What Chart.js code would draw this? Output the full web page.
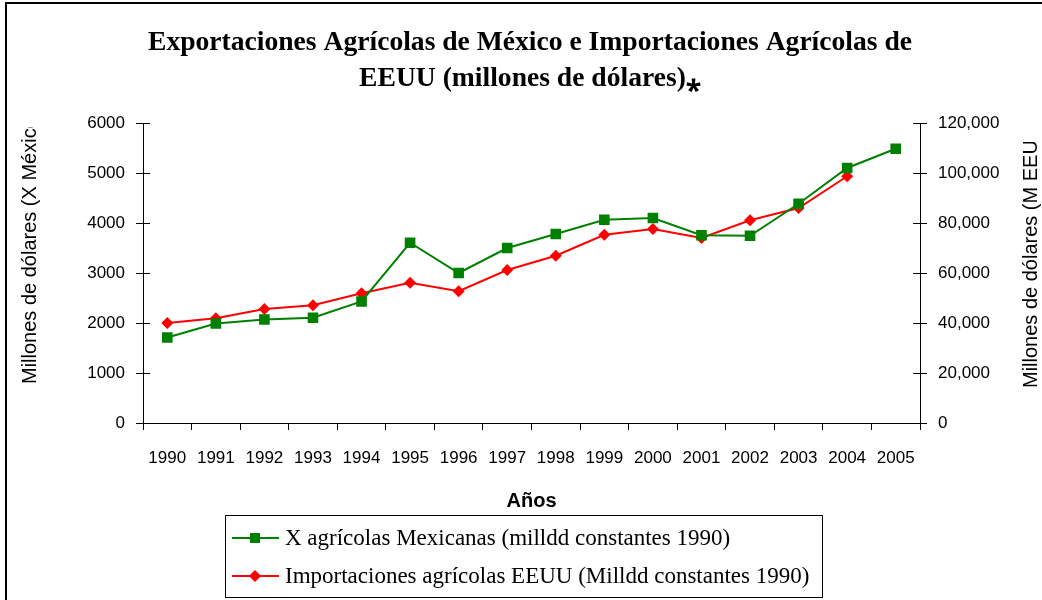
<!DOCTYPE html>
<html>
<head>
<meta charset="utf-8">
<script src="https://cdn.jsdelivr.net/npm/chart.js@4.4.1/dist/chart.umd.min.js"></script>
<style>
  html, body { margin: 0; padding: 0; background: #fff; overflow: hidden; }
  #wrap { position: relative; width: 1042px; height: 600px; }
  #frame { position: absolute; left: 5px; top: 2px; width: 2000px; height: 2000px;
           border-left: 2px solid #000; border-top: 2px solid #000; pointer-events: none; }
</style>
</head>
<body>
<div id="wrap">
  <canvas id="chart"></canvas>
  <div id="frame"></div>
</div>
<script>
var years = ["1990", "1991", "1992", "1993", "1994", "1995", "1996", "1997",
             "1998", "1999", "2000", "2001", "2002", "2003", "2004", "2005"];

// X agricolas Mexicanas, eje izquierdo
var exportsMx = [1710, 1990, 2070, 2105, 2430, 3605, 3000, 3500,
                 3780, 4065, 4100, 3755, 3745, 4385, 5100, 5485];

// Importaciones agricolas EEUU, eje derecho
var importsUs = [40000, 41900, 45600, 47100, 51900, 56100, 52700, 61200,
                 66900, 75300, 77600, 74000, 81100, 86000, 98700, null];

var seriesLabels = ["X agrícolas Mexicanas (milldd constantes 1990)",
                    "Importaciones agrícolas EEUU (Milldd constantes 1990)"];

var titleLines = ["Exportaciones Agrícolas de México e Importaciones Agrícolas de",
                  "EEUU (millones de dólares)\u204E"];

var leftTitle = "Millones de dólares (X México)";
var rightTitle = "Millones de dólares (M EEUU)";
var xTitle = "Años";

var sans = "'Liberation Sans', Arial, sans-serif";
var narrow = "'Liberation Sans Narrow', 'Arial Narrow', 'Liberation Sans', sans-serif";
var serif = "'Liberation Serif', 'Times New Roman', serif";

// small tick marks on the inner side of both value axes, plus the clipped axis titles
var extras = {
    id: 'extras',
    afterDraw: function(chart) {
        var ctx = chart.ctx;
        var y = chart.scales.y, y1 = chart.scales.y1;
        ctx.save();
        ctx.strokeStyle = '#000';
        ctx.lineWidth = 1;
        ctx.beginPath();
        y.ticks.forEach(function(t) {
            var py = Math.round(y.getPixelForValue(t.value)) + 0.5;
            ctx.moveTo(y.right, py);
            ctx.lineTo(y.right + 7, py);
        });
        y1.ticks.forEach(function(t) {
            var py = Math.round(y1.getPixelForValue(t.value)) + 0.5;
            ctx.moveTo(y1.left - 7, py);
            ctx.lineTo(y1.left, py);
        });
        ctx.stroke();
        ctx.restore();

        drawSideTitle(ctx, leftTitle, 30, 384, 127);
        drawSideTitle(ctx, rightTitle, 1031, 388, 142);
        drawLegend(chart);
    }
};

function drawSideTitle(ctx, text, cx, bottom, clipTop) {
    ctx.save();
    ctx.beginPath();
    ctx.rect(cx - 20, clipTop, 40, bottom - clipTop + 20);
    ctx.clip();
    ctx.translate(cx, bottom);
    ctx.rotate(-Math.PI / 2);
    ctx.font = '20px ' + sans;
    ctx.fillStyle = '#000';
    ctx.textAlign = 'left';
    ctx.textBaseline = 'middle';
    ctx.fillText(text, 0, 0);
    ctx.restore();
}

function drawLegend(chart) {
    var ctx = chart.ctx;
    var box = { left: 225.5, top: 515.5, right: 822.5, bottom: 597.5 };
    ctx.save();
    ctx.strokeStyle = '#000';
    ctx.lineWidth = 1;
    ctx.strokeRect(box.left, box.top, box.right - box.left, box.bottom - box.top);
    ctx.font = '23px ' + serif;
    ctx.textBaseline = 'middle';
    ctx.fillStyle = '#000';
    chart.data.datasets.forEach(function(ds, i) {
        var cy = 538 + i * 38;
        ctx.strokeStyle = ds.borderColor;
        ctx.lineWidth = 2;
        ctx.beginPath();
        ctx.moveTo(232, cy);
        ctx.lineTo(279, cy);
        ctx.stroke();
        ctx.fillStyle = ds.pointBackgroundColor;
        ctx.beginPath();
        if (ds.pointStyle === 'rect') {
            ctx.rect(250, cy - 5, 10, 10);
        } else {
            ctx.moveTo(255, cy - 6);
            ctx.lineTo(261, cy);
            ctx.lineTo(255, cy + 6);
            ctx.lineTo(249, cy);
            ctx.closePath();
        }
        ctx.fill();
        ctx.fillStyle = '#000';
        ctx.fillText(ds.label, 285, cy + 1);
    });
    ctx.restore();
}

var ctx = document.getElementById('chart');
var chart = new Chart(ctx, {
    type: 'line',
    data: {
        labels: years,
        datasets: [{
            label: seriesLabels[0],
            data: exportsMx,
            yAxisID: 'y',
            borderColor: '#008000',
            backgroundColor: '#008000',
            pointBackgroundColor: '#008000',
            pointBorderColor: '#008000',
            pointStyle: 'rect',
            pointRadius: 7.5,
            pointBorderWidth: 0,
            borderWidth: 2,
            tension: 0,
            fill: false
        }, {
            label: seriesLabels[1],
            data: importsUs,
            yAxisID: 'y1',
            borderColor: '#ff0000',
            backgroundColor: '#ff0000',
            pointBackgroundColor: '#ff0000',
            pointBorderColor: '#ff0000',
            pointStyle: 'rectRot',
            pointRadius: 6,
            pointBorderWidth: 0,
            borderWidth: 2,
            tension: 0,
            fill: false
        }]
    },
    options: {
        responsive: true,
        maintainAspectRatio: false,
        animation: false,
        events: [],
        layout: { padding: { left: 18, right: 0, top: 0, bottom: 67 } },
        plugins: {
            legend: { display: false },
            tooltip: { enabled: false },
            title: {
                display: true,
                text: titleLines,
                color: '#000',
                font: { family: serif, size: 27.6, weight: 'bold', lineHeight: 36 / 27.6 },
                padding: { top: 25, bottom: 26 }
            }
        },
        scales: {
            x: {
                offset: true,
                grid: { offset: true, drawOnChartArea: false, tickLength: 7, color: '#000' },
                border: { color: '#000', width: 1 },
                ticks: { color: '#000', font: { family: narrow, size: 17 }, padding: 18, maxRotation: 0 },
                title: { display: true, text: xTitle, color: '#000',
                         font: { family: sans, size: 20, weight: 'bold' }, padding: { top: 0, bottom: 20 } },
                afterFit: function(s) { s.height = 110; }
            },
            y: {
                position: 'left',
                min: 0, max: 6000,
                grid: { drawOnChartArea: false, tickLength: 7, color: '#000' },
                border: { color: '#000', width: 1 },
                ticks: { stepSize: 1000, color: '#000', font: { family: narrow, size: 17 }, padding: 11,
                         callback: function(v) { return String(v); } },
                afterFit: function(s) { s.width = 125; }
            },
            y1: {
                position: 'right',
                min: 0, max: 120000,
                grid: { drawOnChartArea: false, tickLength: 7, color: '#000' },
                border: { color: '#000', width: 1 },
                ticks: { stepSize: 20000, color: '#000', font: { family: narrow, size: 17 }, padding: 11,
                         callback: function(v) { return v.toLocaleString('en-US'); } },
                afterFit: function(s) { s.width = 122; }
            }
        }
    },
    plugins: [extras]
});
</script>
</body>
</html>
